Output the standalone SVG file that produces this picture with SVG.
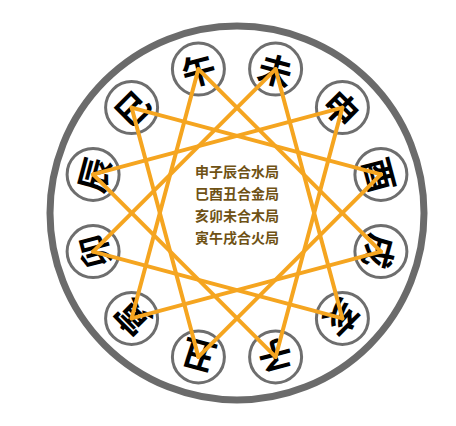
<svg xmlns="http://www.w3.org/2000/svg" width="456" height="426" viewBox="0 0 456 426">
<style>
.ring{fill:none;stroke:#6b6b6b;stroke-width:7}
.node circle{fill:#fff;stroke:#6e6e6e;stroke-width:3}
.node text{font-family:"Noto Sans CJK SC","Noto Sans CJK TC",sans-serif;font-size:34px;font-weight:bold;fill:#000;text-anchor:middle;dominant-baseline:central}
.links line{stroke:#F5A520;stroke-width:4;stroke-linecap:round}
.label{font-family:"Noto Sans CJK SC","Noto Sans CJK TC",sans-serif;font-size:14px;font-weight:bold;fill:#6f5215;text-anchor:middle}
</style>
<rect width="456" height="426" fill="#fff"/>
<circle class="ring" cx="237" cy="213" r="187"/>
<g id="n-wu" class="node"><circle cx="198.4" cy="69.1" r="26"/><text x="198.4" y="69.1" transform="rotate(-15 198.4 69.1)">午</text></g>
<g id="n-wei" class="node"><circle cx="275.6" cy="69.1" r="26"/><text x="275.6" y="69.1" transform="rotate(15 275.6 69.1)">未</text></g>
<g id="n-shen" class="node"><circle cx="342.4" cy="107.6" r="26"/><text x="342.4" y="107.6" transform="rotate(45 342.4 107.6)">申</text></g>
<g id="n-you" class="node"><circle cx="380.9" cy="174.4" r="26"/><text x="380.9" y="174.4" transform="rotate(75 380.9 174.4)">酉</text></g>
<g id="n-xu" class="node"><circle cx="380.9" cy="251.6" r="26"/><text x="380.9" y="251.6" transform="rotate(105 380.9 251.6)">戌</text></g>
<g id="n-hai" class="node"><circle cx="342.4" cy="318.4" r="26"/><text x="342.4" y="318.4" transform="rotate(135 342.4 318.4)">亥</text></g>
<g id="n-zi" class="node"><circle cx="275.6" cy="356.9" r="26"/><text x="275.6" y="356.9" transform="rotate(165 275.6 356.9)">子</text></g>
<g id="n-chou" class="node"><circle cx="198.4" cy="356.9" r="26"/><text x="198.4" y="356.9" transform="rotate(195 198.4 356.9)">丑</text></g>
<g id="n-yin" class="node"><circle cx="131.6" cy="318.4" r="26"/><text x="131.6" y="318.4" transform="rotate(225 131.6 318.4)">寅</text></g>
<g id="n-mao" class="node"><circle cx="93.1" cy="251.6" r="26"/><text x="93.1" y="251.6" transform="rotate(255 93.1 251.6)">卯</text></g>
<g id="n-chen" class="node"><circle cx="93.1" cy="174.4" r="26"/><text x="93.1" y="174.4" transform="rotate(285 93.1 174.4)">辰</text></g>
<g id="n-si" class="node"><circle cx="131.6" cy="107.6" r="26"/><text x="131.6" y="107.6" transform="rotate(315 131.6 107.6)">巳</text></g>
<g id="links" class="links">
<line x1="342.4" y1="107.6" x2="275.6" y2="356.9"/>
<line x1="275.6" y1="356.9" x2="93.1" y2="174.4"/>
<line x1="93.1" y1="174.4" x2="342.4" y2="107.6"/>
<line x1="131.6" y1="107.6" x2="380.9" y2="174.4"/>
<line x1="380.9" y1="174.4" x2="198.4" y2="356.9"/>
<line x1="198.4" y1="356.9" x2="131.6" y2="107.6"/>
<line x1="342.4" y1="318.4" x2="93.1" y2="251.6"/>
<line x1="93.1" y1="251.6" x2="275.6" y2="69.1"/>
<line x1="275.6" y1="69.1" x2="342.4" y2="318.4"/>
<line x1="131.6" y1="318.4" x2="198.4" y2="69.1"/>
<line x1="198.4" y1="69.1" x2="380.9" y2="251.6"/>
<line x1="380.9" y1="251.6" x2="131.6" y2="318.4"/>
</g>
<g id="center-text">
<text class="label" x="237" y="177">申子辰合水局</text>
<text class="label" x="237" y="199">巳酉丑合金局</text>
<text class="label" x="237" y="221">亥卯未合木局</text>
<text class="label" x="237" y="243">寅午戌合火局</text>
</g>
</svg>
